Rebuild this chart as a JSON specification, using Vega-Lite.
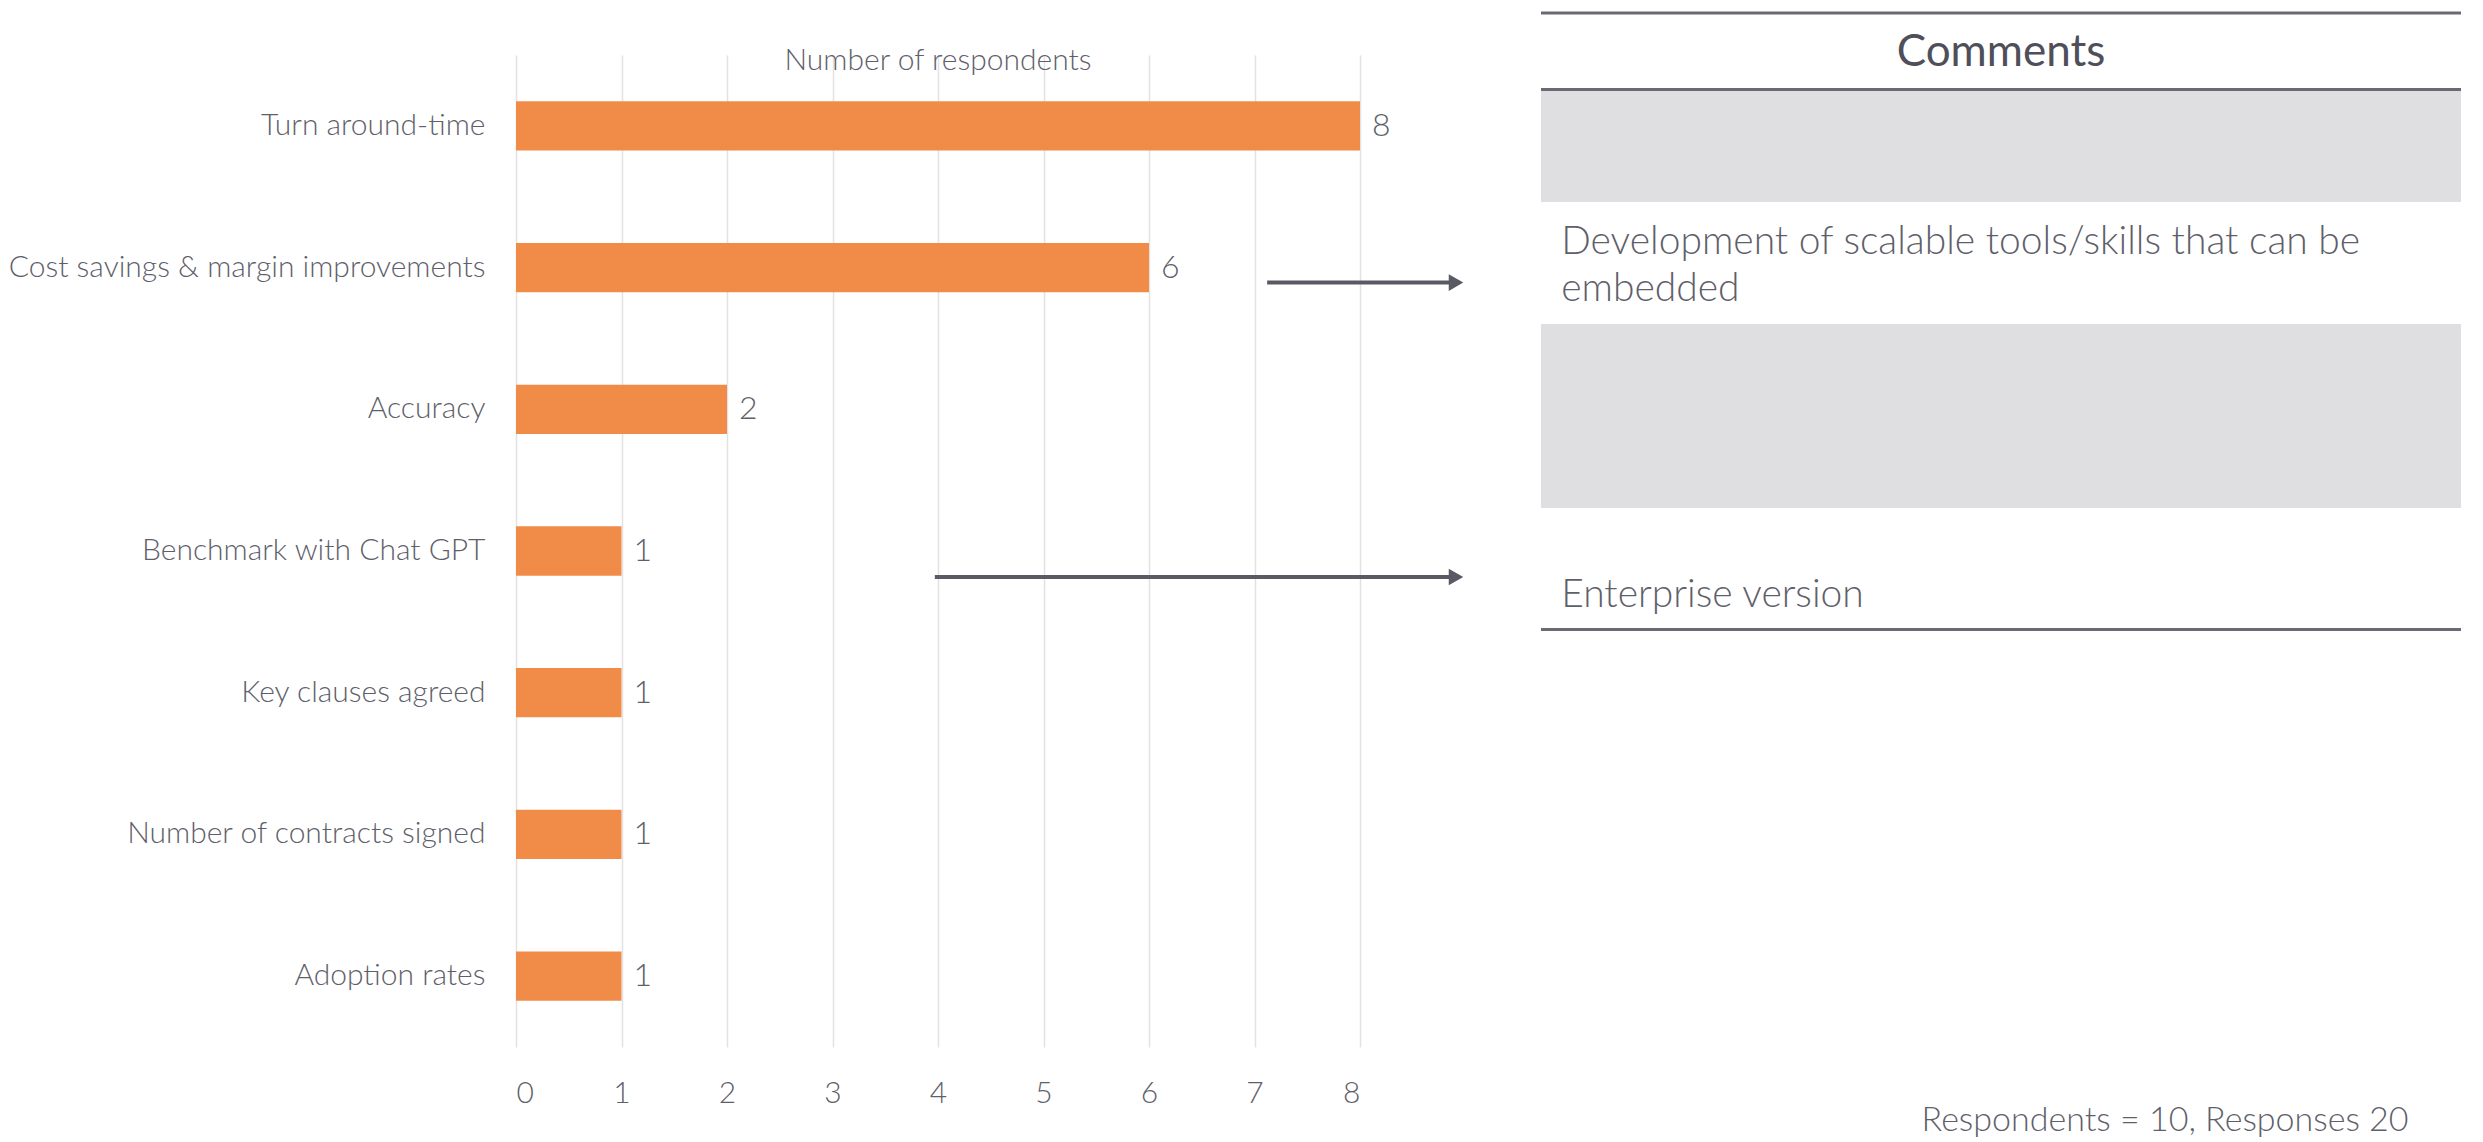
{
  "$schema": "https://vega.github.io/schema/vega-lite/v6.json",
  "background": "white",
  "padding": {"left": 8, "top": 11, "right": 0, "bottom": 0},
  "bounds": "flush",
  "spacing": 181,
  "config": {"view": {"stroke": null}, "font": "Lato"},
  "datasets": {
    "measures": [
      {"measure": "Turn around-time", "respondents": 8},
      {"measure": "Cost savings & margin improvements", "respondents": 6},
      {"measure": "Accuracy", "respondents": 2},
      {"measure": "Benchmark with Chat GPT", "respondents": 1},
      {"measure": "Key clauses agreed", "respondents": 1},
      {"measure": "Number of contracts signed", "respondents": 1},
      {"measure": "Adoption rates", "respondents": 1}
    ],
    "arrow1": [{"measure": "Cost savings & margin improvements", "from": 7.12, "to": 8.86, "tip": 8.91}],
    "arrow2": [{"measure": "Benchmark with Chat GPT", "from": 3.97, "to": 8.86, "tip": 8.91}],
    "bands": [{"top": 90, "bottom": 201}, {"top": 323, "bottom": 507}],
    "lines": [{"at": 12}, {"at": 88.5}, {"at": 628.5}],
    "header": [{"label": "Comments", "pos": 0.5, "at": 52}],
    "comments": [
      {"comment": "Development of scalable tools/skills that can be\nembedded", "at": 241},
      {"comment": "Enterprise version", "at": 594}
    ],
    "footer": [{"label": "Respondents = 10, Responses 20", "at": 1120}]
  },
  "hconcat": [
    {
      "width": 844,
      "height": 992,
      "title": {"text": "Number of respondents", "anchor": "middle", "frame": "group", "offset": -21, "fontSize": 30, "fontWeight": 300, "color": "#5f5f6b", "font": "Lato"},
      "layer": [
        {
          "data": {"name": "measures"},
          "mark": {"type": "bar", "color": "#F08C48"},
          "encoding": {
            "y": {"field": "measure", "type": "nominal", "sort": null,
              "scale": {"paddingInner": 0.652, "paddingOuter": 0.326},
              "axis": {"title": null, "domain": false, "ticks": false, "labelFontSize": 30, "labelFontWeight": 300, "labelColor": "#5f5f6b", "labelPadding": 31, "labelLimit": 0, "labelFont": "Lato"}},
            "x": {"field": "respondents", "type": "quantitative",
              "scale": {"domain": [0, 8], "nice": false},
              "axis": {"values": [0, 1, 2, 3, 4, 5, 6, 7, 8], "format": "d", "title": null, "domain": false, "ticks": false, "grid": true, "gridColor": "#e2e2e2", "gridWidth": 1.5, "labelFontSize": 30, "labelFontWeight": 300, "labelColor": "#5f5f6b", "labelPadding": 31, "labelFont": "Lato"}}
          }
        },
        {
          "data": {"name": "measures"},
          "mark": {"type": "text", "align": "left", "baseline": "middle", "dx": 12, "fontSize": 32, "fontWeight": 300, "color": "#5f5f6b"},
          "encoding": {
            "y": {"field": "measure", "type": "nominal", "sort": null},
            "x": {"field": "respondents", "type": "quantitative"},
            "text": {"field": "respondents", "type": "quantitative"}
          }
        },
        {
          "data": {"name": "arrow1"},
          "mark": {"type": "rule", "color": "#5a5a64", "strokeWidth": 4, "yOffset": 15},
          "encoding": {
            "y": {"field": "measure", "type": "nominal", "sort": null},
            "x": {"field": "from", "type": "quantitative"},
            "x2": {"field": "to"}
          }
        },
        {
          "data": {"name": "arrow1"},
          "mark": {"type": "point", "shape": "triangle-right", "filled": true, "size": 280, "opacity": 1, "color": "#5a5a64", "yOffset": 15},
          "encoding": {
            "y": {"field": "measure", "type": "nominal", "sort": null},
            "x": {"field": "tip", "type": "quantitative"}
          }
        },
        {
          "data": {"name": "arrow2"},
          "mark": {"type": "rule", "color": "#5a5a64", "strokeWidth": 4, "yOffset": 26},
          "encoding": {
            "y": {"field": "measure", "type": "nominal", "sort": null},
            "x": {"field": "from", "type": "quantitative"},
            "x2": {"field": "to"}
          }
        },
        {
          "data": {"name": "arrow2"},
          "mark": {"type": "point", "shape": "triangle-right", "filled": true, "size": 280, "opacity": 1, "color": "#5a5a64", "yOffset": 26},
          "encoding": {
            "y": {"field": "measure", "type": "nominal", "sort": null},
            "x": {"field": "tip", "type": "quantitative"}
          }
        }
      ]
    },
    {
      "width": 920,
      "height": 992,
      "layer": [
        {
          "data": {"name": "bands"},
          "mark": {"type": "rect", "color": "#dfdfe1"},
          "encoding": {
            "x": {"datum": 0, "type": "quantitative", "scale": {"domain": [0, 1], "nice": false}, "axis": null},
            "x2": {"datum": 1},
            "y": {"field": "top", "type": "quantitative", "scale": {"domain": [0, 1142], "range": [-54, 1088], "nice": false, "zero": false}, "axis": null},
            "y2": {"field": "bottom"}
          }
        },
        {
          "data": {"name": "lines"},
          "mark": {"type": "rule", "color": "#6a6a74", "strokeWidth": 3},
          "encoding": {
            "x": {"datum": 0, "type": "quantitative"},
            "x2": {"datum": 1},
            "y": {"field": "at", "type": "quantitative"}
          }
        },
        {
          "data": {"name": "header"},
          "mark": {"type": "text", "align": "center", "baseline": "middle", "fontSize": 44, "color": "#4f4f5a", "font": "Lato"},
          "encoding": {
            "x": {"field": "pos", "type": "quantitative"},
            "y": {"field": "at", "type": "quantitative"},
            "text": {"field": "label"}
          }
        },
        {
          "data": {"name": "comments"},
          "mark": {"type": "text", "align": "left", "baseline": "middle", "fontSize": 39, "fontWeight": 300, "lineBreak": "\n", "lineHeight": 47, "color": "#5f5f6b", "font": "Lato"},
          "encoding": {
            "x": {"datum": 0.022, "type": "quantitative"},
            "y": {"field": "at", "type": "quantitative"},
            "text": {"field": "comment"}
          }
        },
        {
          "data": {"name": "footer"},
          "mark": {"type": "text", "align": "right", "baseline": "middle", "fontSize": 34, "fontWeight": 300, "color": "#5f5f6b", "font": "Lato"},
          "encoding": {
            "x": {"datum": 0.943, "type": "quantitative"},
            "y": {"field": "at", "type": "quantitative"},
            "text": {"field": "label"}
          }
        }
      ]
    }
  ]
}
